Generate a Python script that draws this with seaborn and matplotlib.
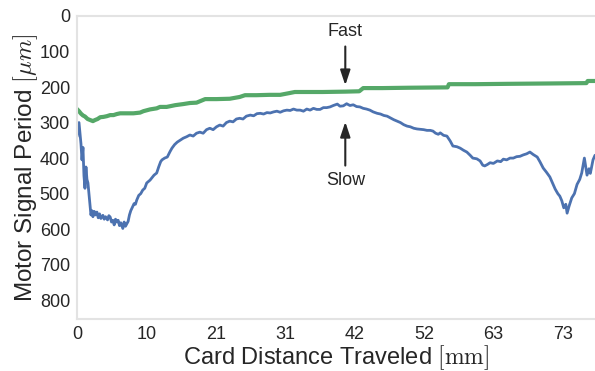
import matplotlib
matplotlib.use("Agg")
import matplotlib.pyplot as plt
import seaborn as sns

# slow motor signal period (card distance in mm, period in um)
slow_x = [0.0, 0.3, 0.45, 0.6, 0.75, 0.9, 1.05, 1.2, 1.35, 1.5, 1.65, 1.8, 2.0, 2.1, 2.25, 2.4, 2.6, 2.8,
          3.0, 3.2, 3.4, 3.6, 3.9, 4.1, 4.3, 4.6, 4.8, 5.0, 5.2, 5.4, 5.6, 5.8, 6.0, 6.2, 6.4, 6.6, 6.9,
          7.1, 7.3, 7.5, 7.7, 7.9, 8.1, 8.3, 8.6, 8.8, 9.0, 9.3, 9.6, 9.9, 10.2, 10.5, 11.0, 11.3, 11.6,
          12.0, 12.3, 12.6, 12.8, 13.2, 13.6, 14.0, 14.3, 14.7, 15.1, 15.5, 16.0, 16.5, 17.0, 17.5, 18.0,
          18.5, 19.0, 19.5, 20.0, 20.5, 21.0, 21.5, 22.0, 22.5, 23.0, 23.5, 24.0, 24.5, 25.0, 25.5, 26.1,
          26.6, 27.1, 27.6, 28.1, 28.6, 29.1, 29.6, 30.1, 30.6, 31.1, 31.6, 32.1, 32.6, 33.1, 33.6, 34.1,
          34.6, 35.1, 35.6, 36.1, 36.6, 37.1, 37.6, 38.1, 38.6, 39.2, 39.6, 40.1, 40.6, 41.1, 41.6, 42.1,
          42.6, 43.1, 43.6, 44.1, 44.6, 45.2, 45.7, 46.2, 46.7, 47.2, 47.7, 48.2, 48.7, 49.2, 49.7, 50.2,
          50.7, 51.2, 51.7, 52.2, 52.7, 53.2, 53.6, 54.0, 54.4, 54.7, 55.2, 55.7, 56.2, 56.6, 57.2, 57.7,
          58.2, 58.7, 59.2, 59.6, 60.2, 60.7, 61.1, 61.4, 61.8, 62.2, 62.7, 63.3, 63.8, 64.2, 64.7, 65.2,
          65.7, 66.2, 66.7, 67.2, 67.7, 68.2, 68.7, 69.3, 69.7, 70.2, 70.7, 71.2, 71.6, 72.0, 72.4, 72.7,
          73.0, 73.3, 73.6, 73.8, 74.1, 74.5, 74.9, 75.3, 75.7, 76.0, 76.4, 76.8, 77.1, 77.3, 77.7, 78.0]
slow_y = [340, 300, 330, 360, 405, 370, 450, 485, 425, 460, 470, 500, 537, 560, 548, 565, 550, 560,
          552, 568, 557, 570, 561, 572, 565, 574, 562, 566, 580, 575, 588, 572, 580, 575, 590, 582, 598,
          580, 592, 585, 578, 560, 548, 540, 528, 530, 518, 505, 500, 490, 485, 470, 462, 455, 448,
          442, 425, 410, 405, 400, 397, 382, 372, 362, 355, 350, 344, 340, 335, 338, 330,
          327, 330, 320, 316, 320, 312, 307, 310, 300, 296, 298, 290, 288, 290, 282, 279,
          281, 275, 274, 276, 272, 273, 270, 268, 271, 267, 265, 266, 262, 265, 265, 268,
          262, 265, 260, 263, 263, 258, 258, 256, 252, 248, 254, 253, 247, 252, 250, 255,
          256, 260, 262, 265, 270, 274, 276, 280, 282, 287, 292, 296, 300, 306, 310, 312,
          316, 318, 319, 320, 322, 322, 324, 330, 333, 329, 336, 338, 352, 366, 368, 372,
          378, 383, 392, 400, 402, 408, 420, 422, 418, 413, 415, 408, 410, 403, 405, 400,
          400, 396, 395, 391, 388, 383, 390, 397, 410, 428, 440, 453, 470, 487, 500, 507,
          520, 540, 530, 555, 535, 512, 500, 474, 460, 442, 400, 448, 430, 443, 405, 392]

# fast motor signal period
fast_x = [0.0, 0.3, 0.6, 0.9, 1.2, 1.6, 2.0, 2.4, 2.7, 3.1, 3.5, 4.0, 4.5, 5.0, 5.5, 6.0, 6.5, 7.5,
          8.5, 9.5, 10.0, 11.0, 12.0, 12.5, 13.5, 14.8, 16.0, 17.0, 18.0, 19.3, 21.0, 23.0, 24.5, 25.3,
          27.0, 29.0, 30.6, 32.0, 32.8, 35.0, 37.0, 40.4, 42.5, 43.1, 46.0, 50.0, 55.8, 56.0, 60.0,
          65.0, 71.2, 76.7, 76.9, 78.0]
fast_y = [262, 268, 275, 280, 283, 290, 293, 296, 293, 290, 285, 284, 282, 279, 279, 276, 274, 274,
          274, 272, 268, 263, 260, 256, 256, 251, 248, 245, 244, 234, 234, 233, 228, 223,
          223, 222, 222, 217, 214, 214, 214, 213, 212, 203, 203, 202, 201, 192, 192,
          191, 190, 189, 183, 183]

x_tick_pos = [0, 10.45, 20.9, 31.35, 41.8, 52.25, 62.7, 73.15]
x_tick_labels = ["0", "10", "21", "31", "42", "52", "63", "73"]
y_ticks = [0, 100, 200, 300, 400, 500, 600, 700, 800]

sns.set_style("whitegrid")
plt.rcParams["font.family"] = ["Liberation Sans", "DejaVu Sans"]
plt.rcParams["mathtext.fontset"] = "cm"
text_col = "#262626"
spine_col = "#e3e3e3"

fig = plt.figure(figsize=(5.95, 3.71), dpi=100)
ax = fig.add_axes([0.1294, 0.140, 0.8706, 0.817])

palette = sns.color_palette("deep")
sns.lineplot(x=fast_x, y=fast_y, ax=ax, color=palette[2], lw=3.0)
sns.lineplot(x=slow_x, y=slow_y, ax=ax, color=palette[0], lw=2.0)

ax.set_xlim(0, 78.0)
ax.set_ylim(853, 0)
ax.set_xticks(x_tick_pos)
ax.set_xticklabels(x_tick_labels)
ax.set_yticks(y_ticks)
ax.grid(False)
ax.tick_params(axis="both", labelsize=13, colors=text_col, length=0)
ax.tick_params(axis="x", pad=5)
ax.tick_params(axis="y", pad=5)
for side in ["left", "bottom", "top"]:
    ax.spines[side].set_color(spine_col)
    ax.spines[side].set_linewidth(1.5)
ax.spines["right"].set_visible(False)

ax.set_xlabel(r"Card Distance Traveled $[\mathrm{mm}]$", fontsize=17, color=text_col, labelpad=0)
ax.set_ylabel(r"Motor Signal Period $[\mu m]$", fontsize=17.5, color=text_col, labelpad=0)

arrow = dict(arrowstyle="-|>,head_length=0.6,head_width=0.2", color=text_col, lw=1.5,
             mutation_scale=15, shrinkA=2, shrinkB=0)
ax.annotate("Fast", xy=(40.4, 195), xytext=(40.4, 45), ha="center", va="center",
            fontsize=13, color=text_col, arrowprops=arrow)
ax.annotate("Slow", xy=(40.4, 298), xytext=(40.4, 462), ha="center", va="center",
            fontsize=13, color=text_col, arrowprops=arrow)

fig.savefig("out.png", dpi=100)
